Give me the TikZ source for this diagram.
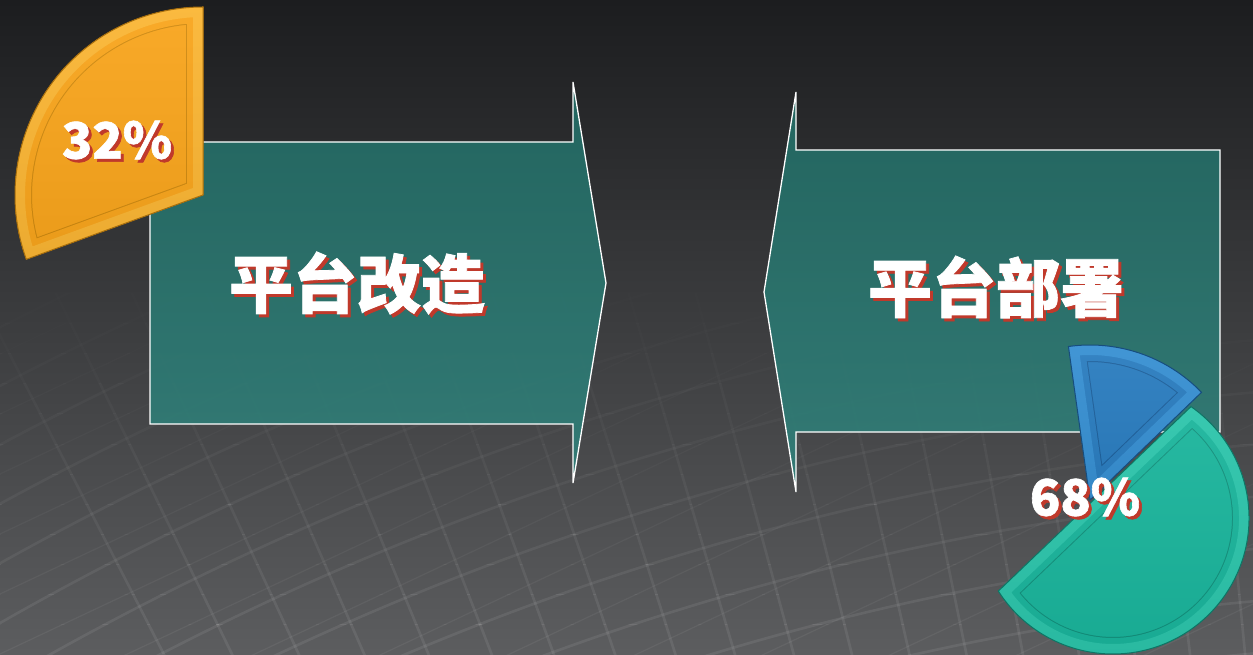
\documentclass[tikz,border=0pt]{standalone}
\usepackage{fontspec}
\newfontfamily\cjk{Noto Sans CJK SC}[BoldFeatures={FakeBold=1.2}]
\definecolor{bgtop}{HTML}{1C1D1F}
\definecolor{bgbot}{HTML}{5C5D5F}
\definecolor{paneltop}{HTML}{236C65}
\definecolor{panelbot}{HTML}{31807A}
\definecolor{shadowred}{HTML}{C0392B}
\definecolor{orangeface}{HTML}{F9A51C}
\definecolor{orangebevel}{HTML}{FBB634}
\definecolor{orangeline}{HTML}{D08A10}
\definecolor{blueface}{HTML}{2A7DC0}
\definecolor{bluebevel}{HTML}{3790D3}
\definecolor{blueline}{HTML}{1D609C}
\definecolor{tealface}{HTML}{1AB59C}
\definecolor{tealbevel}{HTML}{2CC5AB}
\definecolor{tealline}{HTML}{12917D}
\tikzset{mesh/.style={white, line width=2.6pt},
         thinmesh/.style={white, line width=1.2pt},
         panel/.style={draw=white, line width=1.3pt, top color=paneltop,
                       bottom color=panelbot, fill opacity=0.9},
         title/.style={text=white, inner sep=0pt,
                       font=\cjk\bfseries\fontsize{64}{70}\selectfont},
         titleshade/.style={title, text=shadowred},
         pct/.style={text=white, inner sep=0pt,
                     font=\cjk\bfseries\fontsize{50}{56}\selectfont},
         pctshade/.style={pct, text=shadowred},
         }
% one slice: #1 path, #2 face, #3 bevel, #4 inner line
\newcommand{\slice}[4]{%
  \begin{scope}
    \clip #1;
    \fill[#2] #1;
    \draw[#4, line width=34pt, line join=miter] #1;
    \draw[#2, line width=32pt, line join=miter] #1;
    \draw[#3, line width=20pt, line join=miter] #1;
    \shade[top color=white, bottom color=black, opacity=0.06] #1;
  \end{scope}
  \draw[#4!80!black, line width=1pt, line join=miter] #1;}

\begin{document}
\begin{tikzpicture}[x=1pt, y=1pt]
\useasboundingbox (0,0) rectangle (1253,654);
\shade[top color=bgtop, bottom color=bgbot] (0,0) rectangle (1253,654);
% background mesh, fading out upwards
\foreach \i in {0,...,11} {
  \begin{scope}
    \clip (0,\i*30) rectangle (1253,\i*30+30);
    \pgfmathsetmacro\op{0.08*(1-\i/12)}
    \foreach \r in {2560,2612,...,3340}
      \draw[mesh, opacity=\op] (1500,-2600) circle[radius=\r];
    \foreach \a in {80,81.2,...,118}
      \draw[mesh, opacity=\op] (1500,-2600) -- ++(\a:3400);
    \foreach \c in {-600,-540,...,360}
      \draw[thinmesh, opacity=0.7*\op] (0,\c) -- (1253,\c+590);
  \end{scope}
}
% two arrows
\draw[panel] (150,512) -- (573,512) -- (573,572) -- (606,371)
  -- (573,171) -- (573,230) -- (150,230) -- cycle;
\draw[panel] (1220,504) -- (796,504) -- (796,562) -- (764,362)
  -- (796,162) -- (796,222) -- (1220,222) -- cycle;
\node[titleshade] (gaizaos) at (360,368) {平台改造};
\node[title] (gaizao) at (357,371) {平台改造};
\node[titleshade] (bushus) at (999,364) {平台部署};
\node[title] (bushu) at (996,367) {平台部署};
% slices
\slice{(203,459) -- ++(90:188) arc[start angle=90, end angle=200, radius=188] -- cycle}{orangeface}{orangebevel}{orangeline}
\slice{(1090,154) -- ++(44:155) arc[start angle=44, end angle=98, radius=155] -- cycle}{blueface}{bluebevel}{blueline}
\slice{(1113,136) ++(55:136) arc[start angle=55, end angle=-147.5, radius=136] -- cycle}{tealface}{tealbevel}{tealline}
\node[pctshade] (lefts) at (120,511) {32\%};
\node[pct] (left) at (117,514) {32\%};
\node[pctshade] (rights) at (1088,154) {68\%};
\node[pct] (right) at (1085,157) {68\%};
\end{tikzpicture}
\end{document}
